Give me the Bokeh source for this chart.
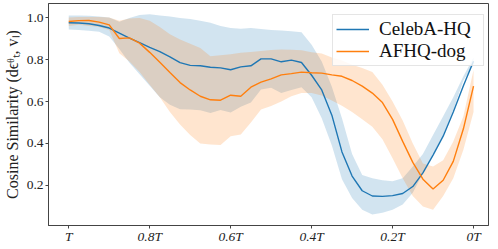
from bokeh.plotting import figure
from bokeh.models import Range1d, FixedTicker, Legend, LegendItem, PrintfTickFormatter
from bokeh.embed import file_html
from bokeh.resources import INLINE

# timestep fraction of T (T ... 0T)
t = [1.0, 0.975, 0.95, 0.925, 0.9, 0.875, 0.85, 0.825, 0.8, 0.775,
     0.75, 0.725, 0.7, 0.675, 0.65, 0.625, 0.6, 0.575, 0.55, 0.525,
     0.5, 0.475, 0.45, 0.425, 0.4, 0.375, 0.35, 0.325, 0.3, 0.275,
     0.25, 0.225, 0.2, 0.175, 0.15, 0.125, 0.1, 0.075, 0.05, 0.025, 0.0]

celeba_mean = [0.975, 0.974, 0.970, 0.962, 0.950, 0.926, 0.902, 0.880, 0.858, 0.838,
               0.813, 0.785, 0.772, 0.770, 0.763, 0.760, 0.751, 0.765, 0.770, 0.803,
               0.803, 0.789, 0.797, 0.786, 0.725, 0.655, 0.535, 0.360, 0.245, 0.175,
               0.150, 0.148, 0.152, 0.162, 0.195, 0.260, 0.345, 0.435, 0.550, 0.675, 0.792]
celeba_upper = [1.010, 1.010, 1.008, 1.005, 1.000, 0.980, 0.998, 1.012, 1.015, 1.010,
                1.005, 0.998, 0.993, 0.985, 0.975, 0.960, 0.950, 0.946, 0.950, 0.945,
                0.940, 0.938, 0.935, 0.930, 0.870, 0.790, 0.670, 0.520, 0.350, 0.250,
                0.235, 0.225, 0.220, 0.235, 0.290, 0.350, 0.440, 0.530, 0.620, 0.720, 0.810]
celeba_lower = [0.943, 0.940, 0.937, 0.932, 0.910, 0.850, 0.785, 0.730, 0.675, 0.620,
                0.585, 0.563, 0.562, 0.558, 0.545, 0.560, 0.548, 0.575, 0.595, 0.657,
                0.665, 0.641, 0.655, 0.668, 0.620, 0.520, 0.390, 0.230, 0.140, 0.085,
                0.062, 0.070, 0.085, 0.110, 0.165, 0.260, 0.350, 0.440, 0.560, 0.700, 0.775]

afhq_mean = [0.981, 0.985, 0.986, 0.978, 0.965, 0.900, 0.903, 0.878, 0.834, 0.787,
             0.738, 0.690, 0.655, 0.625, 0.608, 0.606, 0.630, 0.625, 0.668, 0.692,
             0.708, 0.727, 0.733, 0.740, 0.737, 0.735, 0.727, 0.720, 0.700, 0.673,
             0.640, 0.595, 0.515, 0.410, 0.310, 0.230, 0.183, 0.225, 0.315, 0.470, 0.673]
afhq_upper = [1.000, 1.003, 1.003, 1.002, 1.000, 0.985, 0.995, 0.998, 0.985, 0.955,
              0.920, 0.895, 0.875, 0.855, 0.815, 0.820, 0.825, 0.832, 0.836, 0.840,
              0.845, 0.848, 0.846, 0.844, 0.835, 0.828, 0.810, 0.795, 0.775, 0.760,
              0.740, 0.680, 0.600, 0.510, 0.400, 0.305, 0.290, 0.320, 0.410, 0.530, 0.750]
afhq_lower = [0.960, 0.965, 0.960, 0.955, 0.940, 0.830, 0.790, 0.740, 0.680, 0.620,
              0.550, 0.490, 0.440, 0.400, 0.395, 0.393, 0.435, 0.443, 0.500, 0.562,
              0.578, 0.600, 0.625, 0.640, 0.641, 0.628, 0.605, 0.580, 0.550, 0.515,
              0.480, 0.420, 0.330, 0.235, 0.150, 0.100, 0.085, 0.150, 0.235, 0.370, 0.550]

x_ticks = [1.0, 0.8, 0.6, 0.4, 0.2, 0.0]
x_tick_labels = ["T", "0.8T", "0.6T", "0.4T", "0.2T", "0T"]
y_ticks = [0.2, 0.4, 0.6, 0.8, 1.0]
series_names = ["CelebA-HQ", "AFHQ-dog"]

BLUE = "#1f77b4"
ORANGE = "#ff7f0e"
FONT = "Liberation Serif"
SPINE = "#444444"

p = figure(frame_width=440, frame_height=222, output_backend="svg", toolbar_location=None,
           x_range=Range1d(1.05, -0.037), y_range=Range1d(0.0095, 1.0667),
           min_border_left=0, min_border_right=1, min_border_top=3, min_border_bottom=0)

p.varea(x=t, y1=celeba_lower, y2=celeba_upper, fill_color=BLUE, fill_alpha=0.2)
p.varea(x=t, y1=afhq_lower, y2=afhq_upper, fill_color=ORANGE, fill_alpha=0.2)
r1 = p.line(t, celeba_mean, line_color=BLUE, line_width=1.4)
r2 = p.line(t, afhq_mean, line_color=ORANGE, line_width=1.4)

p.xgrid.visible = False
p.ygrid.visible = False
p.outline_line_color = SPINE
p.outline_line_width = 1

p.xaxis.ticker = FixedTicker(ticks=x_ticks)
p.xaxis.major_label_overrides = {k: v for k, v in zip(x_ticks, x_tick_labels)}
p.yaxis.ticker = FixedTicker(ticks=y_ticks)
p.yaxis.formatter = PrintfTickFormatter(format="%.1f")
p.xaxis.axis_label = None

for ax in (p.xaxis[0], p.yaxis[0]):
    ax.axis_line_color = SPINE
    ax.major_tick_line_color = SPINE
    ax.major_tick_out = 3
    ax.major_tick_in = 0
    ax.minor_tick_line_color = None
    ax.major_label_text_font = FONT
    ax.major_label_text_font_size = "13.5px"
    ax.major_label_text_color = "#222222"

p.xaxis.major_label_text_font_style = "italic"
p.xaxis.major_label_standoff = 0
p.yaxis.major_label_standoff = 2

p.yaxis.axis_label = "Cosine Similarity (d\u03f5\u1dbf\u209c, v\u2097)"
p.yaxis.axis_label_text_font = FONT
p.yaxis.axis_label_text_font_style = "normal"
p.yaxis.axis_label_text_font_size = "16px"
p.yaxis.axis_label_text_color = "#222222"
p.yaxis.axis_label_standoff = 3

legend = Legend(items=[LegendItem(label=series_names[0], renderers=[r1]),
                       LegendItem(label=series_names[1], renderers=[r2])],
                location=(284, 159))
legend.label_text_font = FONT
legend.label_text_font_size = "19px"
legend.label_text_color = "#111111"
legend.glyph_width = 33
legend.glyph_height = 20
legend.label_height = 20
legend.label_width = 101
legend.label_standoff = 10
legend.padding = 3
legend.spacing = 0
legend.margin = 0
legend.border_line_color = "#cccccc"
legend.border_line_width = 1
legend.background_fill_alpha = 0.8
p.add_layout(legend)

open("out.html", "w").write(file_html(p, INLINE))
